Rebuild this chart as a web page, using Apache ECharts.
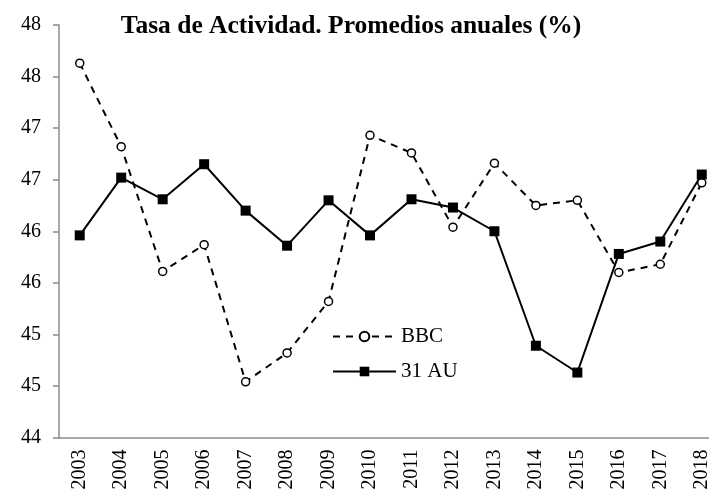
<!DOCTYPE html>
<html>
<head>
<meta charset="utf-8">
<script src="https://cdn.jsdelivr.net/npm/echarts@6/dist/echarts.min.js"></script>
<style>
  html, body { margin: 0; padding: 0; background: #fff; width: 709px; height: 493px; overflow: hidden; }
  #chart { width: 760px; height: 493px; }
</style>
</head>
<body>
<div id="chart"></div>
<script>
var years = ['2003', '2004', '2005', '2006', '2007', '2008', '2009', '2010',
  '2011', '2012', '2013', '2014', '2015', '2016', '2017', '2018']
var bbc = [47.63, 46.82, 45.61, 45.87, 44.54, 44.82, 45.32, 46.93,
  46.76, 46.04, 46.66, 46.25, 46.30, 45.60, 45.68, 46.47]
var au31 = [45.96, 46.52, 46.31, 46.65, 46.20, 45.86, 46.30, 45.96,
  46.31, 46.23, 46.00, 44.89, 44.63, 45.78, 45.90, 46.55]

var font = 'Liberation Serif, Times New Roman, serif'
var chart = echarts.init(document.getElementById('chart'))

// configuracion del grafico (el eje x se sale un poco por la derecha, como en el original)
var option = {
  animation: false,
  title: {
    text: 'Tasa de Actividad. Promedios anuales (%)',
    left: 346,
    textAlign: 'center',
    top: 8,
    textStyle: { fontFamily: font, fontSize: 25.5, fontWeight: 'bold', color: '#000' }
  },
  legend: {
    orient: 'vertical',
    left: 327,
    top: 321,
    itemWidth: 63,
    itemHeight: 12,
    itemGap: 14,
    textStyle: { fontFamily: font, fontSize: 21, color: '#000' },
    data: ['BBC', '31 AU']
  },
  grid: { left: 59, top: 25, width: 663.5, height: 412.5 },
  xAxis: {
    type: 'category',
    data: years,
    boundaryGap: true,
    axisLine: { lineStyle: { color: '#8c8c8c', width: 1.5 } },
    axisTick: { length: 6, lineStyle: { color: '#8c8c8c', width: 1.5 } },
    axisLabel: { rotate: 90, fontFamily: font, fontSize: 20, color: '#000', margin: 12 }
  },
  yAxis: {
    type: 'value',
    min: 44,
    max: 48,
    interval: 0.5,
    splitLine: { show: false },
    axisLine: { show: true, lineStyle: { color: '#8c8c8c', width: 1.5 } },
    axisTick: { show: true, length: 6, lineStyle: { color: '#8c8c8c', width: 1.5 } },
    axisLabel: {
      fontFamily: font, fontSize: 20, color: '#000', margin: 18,
      formatter: function (v) { return Math.round(v) }
    }
  },
  series: [
    {
      name: 'BBC',
      type: 'line',
      data: bbc,
      symbol: 'circle',
      symbolSize: 8,
      itemStyle: { color: '#fff', borderColor: '#000', borderWidth: 1.5 },
      lineStyle: { color: '#000', width: 2, type: [7, 6] }
    },
    {
      name: '31 AU',
      type: 'line',
      data: au31,
      symbol: 'rect',
      symbolSize: 10,
      itemStyle: { color: '#000' },
      lineStyle: { color: '#000', width: 2 }
    }
  ]
}

chart.setOption(option)
</script>
</body>
</html>
